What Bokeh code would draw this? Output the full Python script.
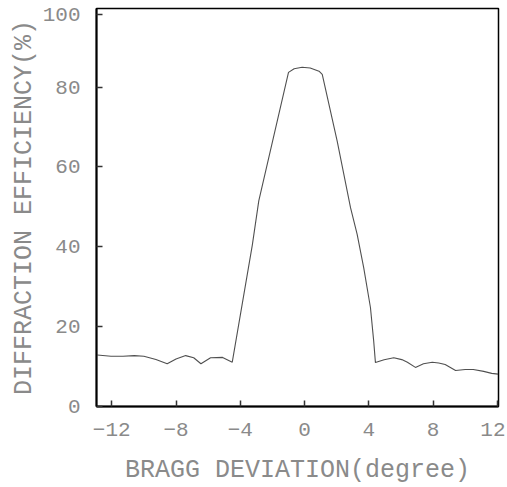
from bokeh.plotting import figure
from bokeh.models import FixedTicker, Range1d
from bokeh.embed import file_html
from bokeh.resources import INLINE

# Bragg deviation (degrees) and diffraction efficiency (%)
deviation = [-12.9, -12.05, -11.3, -10.6, -10.0, -9.25, -8.55, -8.0, -7.4, -6.9,
             -6.45, -5.85, -5.1, -4.5, -3.25, -2.85, -1.0, -0.65, -0.15, 0.35,
             0.9, 1.1, 2.03, 2.86, 3.27, 3.68, 4.1, 4.3, 4.41, 4.95,
             5.55, 6.05, 6.4, 6.9, 7.4, 7.95, 8.35, 8.75, 9.4, 10.0,
             10.5, 11.15, 11.65, 12.05]
efficiency = [12.9, 12.6, 12.6, 12.75, 12.6, 11.75, 10.7, 11.9, 12.75, 12.2,
              10.7, 12.2, 12.3, 11.1, 40.5, 51.5, 83.7, 84.6, 85.0, 84.8,
              84.0, 83.2, 66.5, 49.8, 43.2, 34.8, 24.8, 16.5, 11.0, 11.7,
              12.2, 11.75, 11.1, 9.8, 10.7, 11.1, 10.9, 10.5, 9.0, 9.25,
              9.25, 8.8, 8.3, 8.1]

x_ticks = [-12, -8, -4, 0, 4, 8, 12]
y_ticks = [0, 20, 40, 60, 80]
# the "100" label sits slightly below the top edge in the original
top_label_pos = 98.2
top_label_text = "100"

FONT = "Liberation Mono"
TXT = "#8a8a8a"

p = figure(width=505, height=487, output_backend="svg", toolbar_location=None,
           x_range=Range1d(-12.95, 12.07), y_range=Range1d(0, 99.7),
           min_border_left=96, min_border_right=7, min_border_top=8,
           min_border_bottom=78)

p.line(deviation, efficiency, line_color="#505050", line_width=1.1)

p.xgrid.visible = False
p.ygrid.visible = False
p.background_fill_color = "white"
p.border_fill_color = "white"
p.outline_line_color = "black"
p.outline_line_width = 1.5
p.outline_line_alpha = 1.0

for ax in (p.xaxis[0], p.yaxis[0]):
    ax.axis_line_color = "black"
    ax.axis_line_width = 2
    ax.major_tick_in = 6
    ax.major_tick_out = 0
    ax.minor_tick_in = 0
    ax.minor_tick_out = 0
    ax.major_tick_line_color = "#333333"
    ax.major_tick_line_width = 1.5
    ax.major_label_text_font = FONT
    ax.major_label_text_color = TXT
    ax.major_label_text_font_size = "21px"
    ax.axis_label_text_font = FONT
    ax.axis_label_text_color = TXT
    ax.axis_label_text_font_size = "25px"
    ax.axis_label_text_font_style = "normal"

p.xaxis.ticker = FixedTicker(ticks=x_ticks)
p.yaxis.ticker = FixedTicker(ticks=y_ticks + [top_label_pos])
p.yaxis.major_label_overrides = {top_label_pos: top_label_text}
p.xaxis.major_label_standoff = 16
p.yaxis.major_label_standoff = 16
p.xaxis.axis_label = "BRAGG DEVIATION(degree)"
p.yaxis.axis_label = "DIFFRACTION EFFICIENCY(%)"
p.xaxis.axis_label_standoff = 17
p.yaxis.axis_label_standoff = 1

open("out.html", "w").write(file_html(p, INLINE))
